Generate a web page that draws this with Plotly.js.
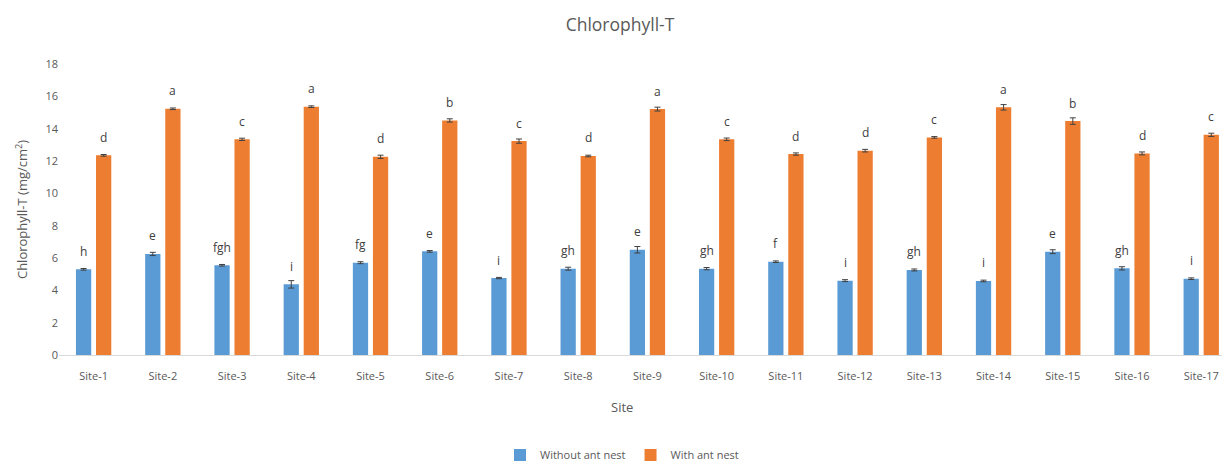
<!DOCTYPE html>
<html>
<head>
<meta charset="utf-8">
<script src="https://cdn.plot.ly/plotly-3.0.1.min.js"></script>
<style>html,body{margin:0;padding:0;background:#fff;}#chart{width:1222px;height:461px;}</style>
</head>
<body>
<div id="chart"></div>
<script>
var sites = ["Site-1","Site-2","Site-3","Site-4","Site-5","Site-6","Site-7","Site-8","Site-9","Site-10","Site-11","Site-12","Site-13","Site-14","Site-15","Site-16","Site-17"];
var withoutNest = [5.30, 6.25, 5.55, 4.37, 5.71, 6.41, 4.76, 5.34, 6.51, 5.34, 5.77, 4.60, 5.26, 4.58, 6.39, 5.36, 4.72];
var withoutErr  = [0.05, 0.10, 0.05, 0.23, 0.06, 0.05, 0.04, 0.09, 0.20, 0.07, 0.05, 0.06, 0.06, 0.05, 0.12, 0.10, 0.05];
var withNest    = [12.35, 15.23, 13.34, 15.36, 12.26, 14.51, 13.23, 12.31, 15.21, 13.34, 12.43, 12.64, 13.46, 15.32, 14.47, 12.47, 13.62];
var withErr     = [0.05, 0.05, 0.07, 0.05, 0.10, 0.10, 0.13, 0.05, 0.12, 0.08, 0.07, 0.08, 0.05, 0.17, 0.20, 0.09, 0.10];
var withoutLetters = ["h","e","fgh","i","fg","e","i","gh","e","gh","f","i","gh","i","e","gh","i"];
var withLetters    = ["d","a","c","a","d","b","c","d","a","c","d","d","c","a","b","d","c"];

var font = "Open Sans, Noto Sans, sans-serif";
var grey = "#595959";

var traces = [
  {type:"bar", name:"Without ant nest", x:sites, y:withoutNest,
   marker:{color:"#5B9BD5"},
   error_y:{type:"data", array:withoutErr, visible:true, color:"#404040", thickness:1, width:3}},
  {type:"bar", name:"With ant nest", x:sites, y:withNest,
   marker:{color:"#ED7D31"},
   error_y:{type:"data", array:withErr, visible:true, color:"#404040", thickness:1, width:3}}
];

var off = 0.145;
var annotations = [];
for (var i = 0; i < sites.length; i++) {
  annotations.push({x:i - off, y:withoutNest[i], xref:"x", yref:"y", text:withoutLetters[i],
    showarrow:false, yanchor:"middle", yshift:18, font:{family:font, size:12, color:"#404040"}});
  annotations.push({x:i + off, y:withNest[i], xref:"x", yref:"y", text:withLetters[i],
    showarrow:false, yanchor:"middle", yshift:18, font:{family:font, size:12, color:"#404040"}});
}
annotations.push({xref:"paper", yref:"paper", x:(622-59)/1163, y:-0.18, yanchor:"middle", xanchor:"center",
  text:"Site", showarrow:false, font:{family:font, size:13, color:grey}});

var layout = {
  width:1222, height:461,
  margin:{l:59, r:0, t:64, b:106, autoexpand:false},
  paper_bgcolor:"#fff", plot_bgcolor:"#fff",
  title:{text:"Chlorophyll-T", x:620/1222, xanchor:"center", y:1-25/461, yanchor:"middle",
         font:{family:font, size:17.5, color:grey}},
  barmode:"group", bargap:0.42, bargroupgap:0.24,
  xaxis:{type:"category", range:[-0.5, 16.3], showline:true, linecolor:"#d9d9d9", linewidth:1,
         ticks:"", ticklabelstandoff:11, showgrid:false, tickfont:{family:font, size:11, color:grey}, fixedrange:true},
  yaxis:{range:[0,18], dtick:2, showgrid:false, zeroline:false, showline:false, ticks:"",
         tickfont:{family:font, size:11, color:grey},
         title:{text:"Chlorophyll-T (mg/cm<sup>2</sup>)", standoff:14, font:{family:font, size:13, color:grey}}},
  showlegend:true,
  legend:{orientation:"h", x:(622-59)/1163, xanchor:"center", y:-100/291, yanchor:"middle",
          font:{family:font, size:11, color:grey}, itemwidth:30, traceorder:"normal"},
  annotations:annotations
};
Plotly.newPlot("chart", traces, layout, {displayModeBar:false, staticPlot:true});
</script>
</body>
</html>
